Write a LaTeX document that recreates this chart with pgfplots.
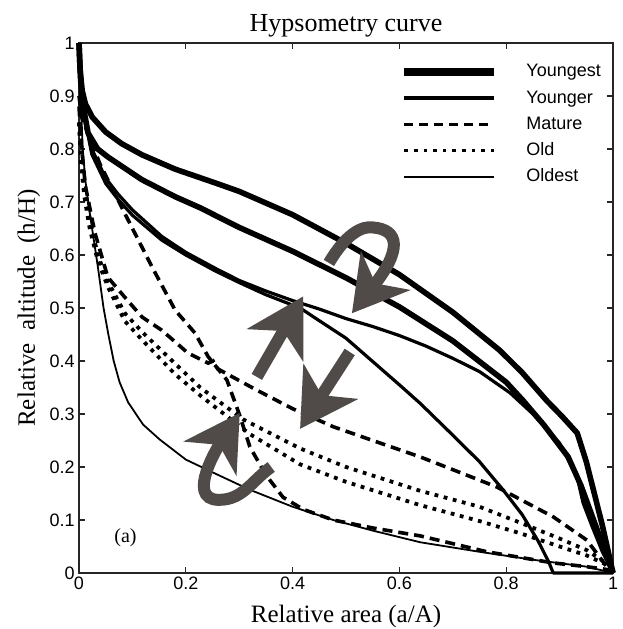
\documentclass[border=0pt]{standalone}
\usepackage{fontspec}
\setmainfont{Liberation Serif}
\newfontfamily\sansfont{Liberation Sans}
\usepackage{pgfplots}
\pgfplotsset{compat=1.18}
\usetikzlibrary{arrows.meta}
\definecolor{arrowgray}{HTML}{504B48}

\begin{document}
\begin{tikzpicture}
\begin{axis}[
    width=267pt, height=265pt, scale only axis,
    xmin=0, xmax=1, ymin=0, ymax=1,
    xtick={0,0.2,0.4,0.6,0.8,1},
    ytick={0,0.1,0.2,0.3,0.4,0.5,0.6,0.7,0.8,0.9,1},
    tick align=inside, major tick length=3pt,
    axis line style={draw=black!85, line width=0.6pt},
    every tick/.style={black!85, line width=0.6pt},
    ticklabel style={font=\sansfont\fontsize{9}{10}\selectfont, inner sep=2pt},
    /pgf/number format/assume math mode=true,
    xlabel={\fontsize{12.5}{14}\selectfont Relative area (a/A)},
    xlabel style={at={(axis description cs:0.5,0)}, anchor=base, yshift=-24.5pt, inner sep=0pt},
    ylabel={\fontsize{12.5}{14}\selectfont Relative\ \ altitude\ \ (h/H)},
    ylabel style={at={(axis description cs:-0.0824,0.5)}, anchor=base, inner sep=0pt},
    clip=false,
    legend image code/.code={\draw[#1] (0pt,0pt) -- (45pt,0pt);},
    legend cell align=left,
    legend style={draw=none, fill=none, at={(axis cs:0.59,0.968)}, anchor=north west,
        font=\sansfont\fontsize{9}{10}\selectfont, row sep=5.4pt,
        nodes={inner sep=0pt, text height=6.3pt, text depth=1.4pt},
        /tikz/every odd column/.append style={column sep=14pt}},
    youngest/.style={black, line width=2.8pt, line join=round, forget plot},
    younger/.style={black, line width=1.6pt, line join=round, forget plot},
    mature/.style={black, line width=1.8pt, dash pattern=on 5pt off 3pt, forget plot},
    old/.style={black, line width=1.9pt, dash pattern=on 1.9pt off 2.8pt, forget plot},
    oldest/.style={black, line width=0.9pt, line join=round, forget plot},
]
% youngest
\addplot[youngest] coordinates {(0,1) (0.002,0.95) (0.006,0.91) (0.012,0.885) (0.025,0.86) (0.05,0.832) (0.08,0.81) (0.118,0.789) (0.18,0.762) (0.255,0.736) (0.3,0.72) (0.4,0.676) (0.5,0.622) (0.6,0.563) (0.7,0.492) (0.788,0.42) (0.83,0.378) (0.876,0.325) (0.905,0.295) (0.933,0.264) (0.95,0.21) (0.965,0.15) (0.98,0.09) (0.99,0.045) (1,0)};
\addplot[youngest] coordinates {(0,1) (0.003,0.93) (0.008,0.88) (0.017,0.83) (0.035,0.80) (0.054,0.785) (0.118,0.742) (0.18,0.71) (0.227,0.689) (0.3,0.652) (0.4,0.607) (0.5,0.557) (0.6,0.502) (0.7,0.438) (0.8,0.36) (0.831,0.326) (0.87,0.28) (0.916,0.219) (0.94,0.165) (0.96,0.11) (0.98,0.055) (1,0)};
% younger
\addplot[younger] coordinates {(0,1) (0.004,0.92) (0.01,0.87) (0.024,0.80) (0.05,0.745) (0.073,0.715) (0.1,0.685) (0.155,0.635) (0.2,0.605) (0.255,0.575) (0.3,0.552) (0.35,0.532) (0.4,0.514) (0.45,0.498) (0.5,0.48) (0.55,0.465) (0.6,0.448) (0.65,0.428) (0.7,0.405) (0.75,0.38) (0.807,0.34) (0.85,0.3) (0.9,0.245) (0.933,0.18) (0.944,0.132) (0.96,0.09) (0.98,0.04) (1,0)};
\addplot[younger] coordinates {(0,1) (0.004,0.92) (0.01,0.86) (0.024,0.79) (0.05,0.735) (0.073,0.705) (0.1,0.675) (0.155,0.628) (0.2,0.60) (0.255,0.57) (0.3,0.548) (0.35,0.525) (0.414,0.5) (0.45,0.476) (0.5,0.443) (0.6,0.355) (0.639,0.32) (0.7,0.26) (0.75,0.21) (0.794,0.157) (0.83,0.11) (0.86,0.06) (0.88,0.02) (0.888,0) (1,0)};
% mature
\addplot[mature] coordinates {(0,0.9) (0.005,0.86) (0.02,0.82) (0.04,0.77) (0.07,0.71) (0.092,0.666) (0.137,0.577) (0.18,0.496) (0.217,0.453) (0.242,0.408) (0.277,0.364) (0.3,0.30) (0.32,0.238) (0.35,0.185) (0.382,0.143) (0.42,0.12) (0.476,0.1) (0.55,0.085) (0.639,0.07) (0.764,0.04) (0.888,0.019) (0.95,0.012) (1,0.005)};
\addplot[mature] coordinates {(0,0.88) (0.005,0.8) (0.012,0.73) (0.02,0.69) (0.03,0.641) (0.054,0.558) (0.086,0.52) (0.118,0.483) (0.155,0.458) (0.204,0.415) (0.242,0.396) (0.251,0.40) (0.26,0.385) (0.333,0.345) (0.4,0.31) (0.476,0.276) (0.55,0.25) (0.639,0.219) (0.7,0.195) (0.783,0.162) (0.888,0.106) (0.951,0.062) (0.989,0.011) (1,0.005)};
% old
\addplot[old] coordinates {(0,0.85) (0.005,0.78) (0.012,0.72) (0.02,0.67) (0.035,0.60) (0.054,0.55) (0.086,0.49) (0.118,0.455) (0.18,0.395) (0.227,0.35) (0.307,0.29) (0.414,0.235) (0.5,0.2) (0.639,0.155) (0.75,0.125) (0.826,0.095) (0.9,0.065) (0.951,0.043) (1,0.01)};
\addplot[old] coordinates {(0,0.85) (0.004,0.77) (0.01,0.71) (0.02,0.65) (0.035,0.59) (0.054,0.54) (0.086,0.475) (0.118,0.44) (0.18,0.375) (0.227,0.335) (0.32,0.262) (0.414,0.205) (0.5,0.172) (0.639,0.128) (0.75,0.098) (0.826,0.075) (0.9,0.05) (0.951,0.033) (1,0.01)};
% oldest
\addplot[oldest] coordinates {(0,1) (0.003,0.9) (0.007,0.8) (0.012,0.74) (0.02,0.68) (0.035,0.58) (0.046,0.50) (0.055,0.45) (0.065,0.40) (0.076,0.36) (0.092,0.322) (0.12,0.28) (0.151,0.252) (0.2,0.214) (0.25,0.19) (0.32,0.157) (0.4,0.125) (0.476,0.1) (0.55,0.08) (0.639,0.058) (0.75,0.04) (0.85,0.025) (0.95,0.012) (1,0)};

\addlegendimage{black, line width=4pt}
\addlegendentry{Youngest}
\addlegendimage{black, line width=1.8pt}
\addlegendentry{Younger}
\addlegendimage{black, line width=1.8pt, dash pattern=on 4.5pt off 3pt}
\addlegendentry{Mature}
\addlegendimage{black, line width=1.8pt, dash pattern=on 1.8pt off 3pt}
\addlegendentry{Old}
\addlegendimage{black, line width=0.9pt}
\addlegendentry{Oldest}

% direction arrows
\draw[arrowgray, line width=6pt, -{Stealth[length=27pt, width=31pt, inset=8pt]}]
    (axis cs:0.468,0.585) .. controls (axis cs:0.5,0.64) and (axis cs:0.53,0.655) .. (axis cs:0.55,0.652)
    .. controls (axis cs:0.6,0.648) and (axis cs:0.605,0.61) .. (axis cs:0.511,0.49);
\draw[arrowgray, line width=6pt, -{Stealth[length=28pt, width=32pt, inset=8pt]}]
    (axis cs:0.333,0.37) -- (axis cs:0.42,0.522);
\draw[arrowgray, line width=6pt, -{Stealth[length=28pt, width=32pt, inset=8pt]}]
    (axis cs:0.507,0.417) -- (axis cs:0.414,0.272);
\draw[arrowgray, line width=6pt, -{Stealth[length=27pt, width=31pt, inset=8pt]}]
    (axis cs:0.36,0.2) to[out=215,in=0] (axis cs:0.262,0.138) to[out=180,in=237] (axis cs:0.301,0.302);

\node[font=\fontsize{10}{12}\selectfont] at (axis cs:0.087,0.066) {(a)};
\node[font=\fontsize{13}{15}\selectfont, anchor=base, inner sep=0pt] at (axis description cs:0.5,1.022) {Hypsometry curve};
\coordinate (sw) at (axis description cs:0,0);
\coordinate (ne) at (axis description cs:1,1);
\end{axis}
\pgfresetboundingbox
\path[use as bounding box] ([xshift=-39.5pt,yshift=-28pt]sw) rectangle ([xshift=4.5pt,yshift=21.5pt]ne);
\end{tikzpicture}
\end{document}
